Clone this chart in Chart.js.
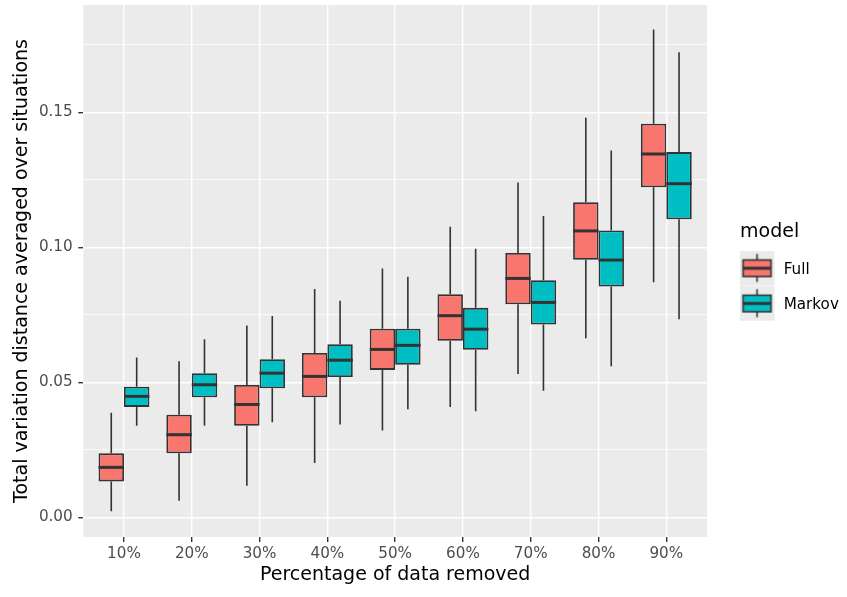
<!DOCTYPE html>
<html lang="en">
<head>
<meta charset="UTF-8">
<meta name="viewport" content="width=device-width, initial-scale=1.0">
<title>Total variation distance by data removed</title>
<script src="https://cdn.jsdelivr.net/npm/chart.js"></script>
<style>
    body { margin: 0; background: #ffffff; }
</style>
</head>
<body>
<canvas id="chartCanvas" width="847" height="597"></canvas>

<script>
    // categories on the x axis
    const categories = ['10%', '20%', '30%', '40%', '50%', '60%', '70%', '80%', '90%'];
    const seriesNames = ['Full', 'Markov'];

    // box statistics (whisker low, Q1, median, Q3, whisker high)
    const fullLow    = [0.0022, 0.0061, 0.0117, 0.0201, 0.0322, 0.0409, 0.0531, 0.0663, 0.0871];
    const fullQ1     = [0.0133, 0.0237, 0.0339, 0.0445, 0.0546, 0.0654, 0.0789, 0.0954, 0.1223];
    const fullMedian = [0.0185, 0.0306, 0.0418, 0.0522, 0.0622, 0.0747, 0.0885, 0.1061, 0.1346];
    const fullQ3     = [0.0237, 0.0380, 0.0490, 0.0609, 0.0699, 0.0826, 0.0979, 0.1167, 0.1458];
    const fullHigh   = [0.0387, 0.0578, 0.0711, 0.0846, 0.0922, 0.1076, 0.1240, 0.1480, 0.1807];

    const markovLow    = [0.0339, 0.0339, 0.0352, 0.0344, 0.0400, 0.0393, 0.0469, 0.0560, 0.0734];
    const markovQ1     = [0.0409, 0.0445, 0.0478, 0.0520, 0.0565, 0.0621, 0.0714, 0.0855, 0.1104];
    const markovMedian = [0.0448, 0.0491, 0.0534, 0.0582, 0.0637, 0.0697, 0.0796, 0.0953, 0.1236];
    const markovQ3     = [0.0484, 0.0534, 0.0586, 0.0641, 0.0699, 0.0776, 0.0878, 0.1063, 0.1353];
    const markovHigh   = [0.0592, 0.0660, 0.0746, 0.0802, 0.0891, 0.0995, 0.1116, 0.1359, 0.1723];

    // y gridlines (every other one is labelled) and axis range
    const yTicks = [0, 0.025, 0.05, 0.075, 0.10, 0.125, 0.15, 0.175];
    const yTickLabels = ['0.00', '', '0.05', '', '0.10', '', '0.15', ''];
    const yMin = -0.0073;
    const yMax = 0.1898;

    const fillColors = ['#F8766D', '#00BFC4'];
    const ink = '#333333';
    const panelGrey = '#EBEBEB';

    const stats = [
        { low: fullLow, q1: fullQ1, median: fullMedian, q3: fullQ3, high: fullHigh },
        { low: markovLow, q1: markovQ1, median: markovMedian, q3: markovQ3, high: markovHigh }
    ];

    Chart.defaults.font.family = "'DejaVu Sans', sans-serif";

    // small boxplot glyph for the legend keys (drawn left of centre so it lines up with the title)
    function keyGlyph(fill) {
        const c = document.createElement('canvas');
        c.width = 57;
        c.height = 39;
        const g = c.getContext('2d');
        g.fillStyle = panelGrey;
        g.fillRect(0, 0, 35, 35);
        g.strokeStyle = ink;
        g.lineWidth = 1.6;
        g.beginPath();
        g.moveTo(17.5, 3.5);
        g.lineTo(17.5, 31.5);
        g.stroke();
        g.fillStyle = fill;
        g.fillRect(3.5, 9.5, 28, 16.5);
        g.strokeRect(3.5, 9.5, 28, 16.5);
        g.lineWidth = 3;
        g.beginPath();
        g.moveTo(3.5, 17.75);
        g.lineTo(31.5, 17.75);
        g.stroke();
        return c;
    }

    const panelBackground = {
        id: 'panelBackground',
        beforeDraw(chart) {
            const a = chart.chartArea;
            const ctx = chart.ctx;
            ctx.save();
            ctx.fillStyle = panelGrey;
            ctx.fillRect(a.left, a.top, a.right - a.left, a.bottom - a.top);
            ctx.restore();
        }
    };

    // whiskers under the boxes, medians over them, both placed through the y scale
    const boxParts = {
        id: 'boxParts',
        beforeDatasetsDraw(chart) {
            const y = chart.scales.y;
            const ctx = chart.ctx;
            ctx.save();
            ctx.strokeStyle = ink;
            ctx.lineWidth = 1.6;
            stats.forEach((s, d) => {
                chart.getDatasetMeta(d).data.forEach((bar, i) => {
                    ctx.beginPath();
                    ctx.moveTo(bar.x, y.getPixelForValue(s.high[i]));
                    ctx.lineTo(bar.x, y.getPixelForValue(s.q3[i]));
                    ctx.moveTo(bar.x, y.getPixelForValue(s.q1[i]));
                    ctx.lineTo(bar.x, y.getPixelForValue(s.low[i]));
                    ctx.stroke();
                });
            });
            ctx.restore();
        },
        afterDatasetsDraw(chart) {
            const y = chart.scales.y;
            const ctx = chart.ctx;
            ctx.save();
            ctx.strokeStyle = ink;
            ctx.lineWidth = 3;
            stats.forEach((s, d) => {
                chart.getDatasetMeta(d).data.forEach((bar, i) => {
                    const py = y.getPixelForValue(s.median[i]);
                    ctx.beginPath();
                    ctx.moveTo(bar.x - bar.width / 2, py);
                    ctx.lineTo(bar.x + bar.width / 2, py);
                    ctx.stroke();
                });
            });
            ctx.restore();
        }
    };

    const datasets = stats.map((s, d) => ({
        label: seriesNames[d],
        data: categories.map((_, i) => ({ x: i + 1, y: [s.q1[i], s.q3[i]] })),
        backgroundColor: fillColors[d],
        borderColor: ink,
        borderWidth: 1.8,
        borderSkipped: false,
        categoryPercentage: 0.75,
        barPercentage: 1.0
    }));

    const isMajor = v => yTicks.indexOf(v) % 2 === 0;

    new Chart(document.getElementById('chartCanvas').getContext('2d'), {
        type: 'bar',
        data: { datasets: datasets },
        plugins: [panelBackground, boxParts],
        options: {
            responsive: false,
            animation: false,
            layout: { padding: { top: 5, right: 0, bottom: 0, left: 0 } },
            plugins: {
                tooltip: { enabled: false },
                legend: {
                    position: 'right',
                    align: 'start',
                    maxWidth: 107,
                    title: {
                        display: true,
                        text: 'model',
                        position: 'start',
                        color: '#000000',
                        font: { size: 19 },
                        padding: { top: 217.5, bottom: -2.9 }
                    },
                    labels: {
                        usePointStyle: true,
                        pointStyleWidth: 16.1,
                        padding: 20,
                        color: '#000000',
                        font: { size: 15.2 },
                        generateLabels: () => seriesNames.map((name, i) => ({
                            text: name,
                            pointStyle: keyGlyph(fillColors[i]),
                            fillStyle: fillColors[i],
                            strokeStyle: 'transparent',
                            lineWidth: 0,
                            hidden: false,
                            datasetIndex: i
                        }))
                    }
                }
            },
            scales: {
                x: {
                    type: 'linear',
                    min: 0.4,
                    max: 9.6,
                    offset: false,
                    afterBuildTicks: s => { s.ticks = categories.map((_, i) => ({ value: i + 1 })); },
                    afterFit: s => { s.height = 60; },
                    grid: {
                        offset: false,
                        color: '#FFFFFF',
                        lineWidth: 1.4,
                        tickColor: ink,
                        tickWidth: 1.4,
                        tickLength: 5
                    },
                    border: { display: false },
                    ticks: {
                        color: '#4D4D4D',
                        font: { size: 15.2 },
                        padding: 3,
                        maxRotation: 0,
                        callback: v => categories[v - 1]
                    },
                    title: {
                        display: true,
                        text: 'Percentage of data removed',
                        color: '#000000',
                        font: { size: 19 },
                        padding: { top: 0, bottom: 10.6 }
                    }
                },
                y: {
                    min: yMin,
                    max: yMax,
                    afterBuildTicks: s => { s.ticks = yTicks.map(v => ({ value: v })); },
                    afterFit: s => { s.width = 83.3; s.paddingTop = 0; s.paddingBottom = 0; },
                    grid: {
                        color: '#FFFFFF',
                        lineWidth: c => isMajor(c.tick.value) ? 1.4 : 0.7,
                        tickColor: c => isMajor(c.tick.value) ? ink : 'rgba(0,0,0,0)',
                        tickWidth: 1.4,
                        tickLength: 5
                    },
                    border: { display: false },
                    ticks: {
                        color: '#4D4D4D',
                        font: { size: 15.2 },
                        padding: 5.6,
                        callback: (v, i) => yTickLabels[i]
                    },
                    title: {
                        display: true,
                        text: 'Total variation distance averaged over situations',
                        color: '#000000',
                        font: { size: 19 },
                        padding: { top: 10.3, bottom: 0 }
                    }
                },
                // empty strip between the panel and the legend
                gap: {
                    type: 'linear',
                    position: 'right',
                    grid: { display: false },
                    border: { display: false },
                    ticks: { display: false },
                    afterFit: s => { s.width = 33; s.paddingTop = 0; s.paddingBottom = 0; }
                }
            }
        }
    });
</script>
</body>
</html>
